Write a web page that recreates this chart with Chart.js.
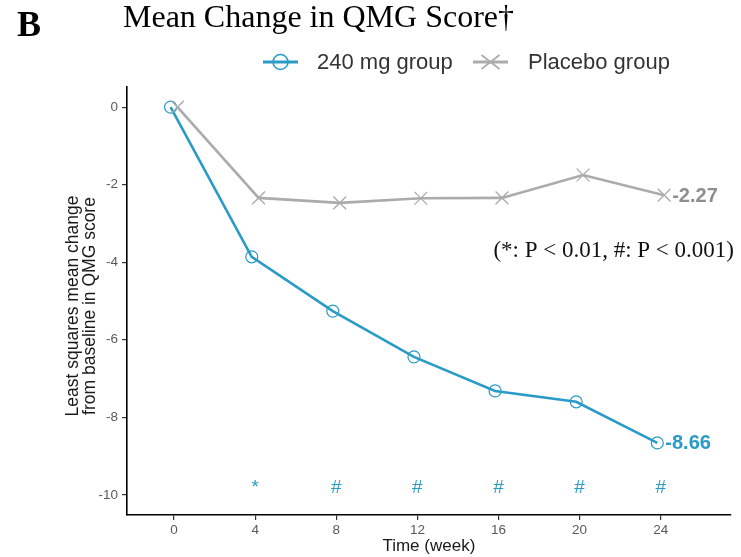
<!DOCTYPE html>
<html>
<head>
<meta charset="utf-8">
<script src="https://cdn.jsdelivr.net/npm/chart.js@4/dist/chart.umd.min.js"></script>
<style>
  html, body { margin: 0; padding: 0; background: #ffffff; }
  #wrap { width: 741px; height: 557px; }
</style>
</head>
<body>
<div id="wrap"><canvas id="chart" width="741" height="557"></canvas></div>
<script>
// Study visits (weeks) and least-squares mean change in QMG score
const weeks = [0, 4, 8, 12, 16, 20, 24];
const dose240 = [0, -3.86, -5.26, -6.44, -7.32, -7.60, -8.66];
const placebo = [0, -2.34, -2.47, -2.35, -2.34, -1.75, -2.27];
// Significance of 240 mg vs placebo at each visit
const sigMarks = ['', '*', '#', '#', '#', '#', '#'];
const xTicks = [0, 4, 8, 12, 16, 20, 24];
const yTicks = [0, -2, -4, -6, -8, -10];

const BLUE = '#2a9bc7';
const GREY = '#ababab';
const DODGE = 0.17;          // horizontal offset so the two series don't overlap
const SIG_Y = -9.95;         // baseline level of the significance marks

const toPoints = (vals, shift) => vals.map((v, i) => ({ x: weeks[i] + shift, y: v }));

const annotations = {
  id: 'annotations',
  afterDatasetsDraw(chart) {
    const { ctx, scales: { x, y } } = chart;
    ctx.save();

    // end-of-line values
    const ends = [
      { data: placebo, shift: DODGE, color: '#8e8e8e' },
      { data: dose240, shift: -DODGE, color: BLUE }
    ];
    ctx.font = 'bold 20px "Liberation Sans", Arial, sans-serif';
    ctx.textAlign = 'left';
    ctx.textBaseline = 'middle';
    ends.forEach(e => {
      const i = e.data.length - 1;
      ctx.fillStyle = e.color;
      ctx.fillText(e.data[i].toFixed(2), x.getPixelForValue(weeks[i] + e.shift) + 8, y.getPixelForValue(e.data[i]) + 1);
    });

    // significance marks
    ctx.font = '19px "Liberation Sans", Arial, sans-serif';
    ctx.textAlign = 'center';
    ctx.textBaseline = 'alphabetic';
    ctx.fillStyle = BLUE;
    sigMarks.forEach((m, i) => {
      if (m) ctx.fillText(m, x.getPixelForValue(weeks[i]), y.getPixelForValue(SIG_Y));
    });

    // p-value key
    ctx.font = '23px "Liberation Serif", "Times New Roman", serif';
    ctx.textAlign = 'right';
    ctx.fillStyle = '#111';
    ctx.fillText('(*: P < 0.01, #: P < 0.001)', 734, 257);
    ctx.restore();
  },
  afterDraw(chart) {
    const { ctx, chartArea } = chart;
    ctx.save();

    // panel letter and heading
    ctx.fillStyle = '#000';
    ctx.textAlign = 'left';
    ctx.textBaseline = 'alphabetic';
    ctx.font = 'bold 36px "Liberation Serif", "Times New Roman", serif';
    ctx.fillText('B', 17, 36);
    ctx.font = '32px "Liberation Serif", "Times New Roman", serif';
    ctx.fillText('Mean Change in QMG Score\u2020', 123, 27);

    // legend
    const ly = 62;
    const items = chart.data.datasets;
    ctx.font = '22px "Liberation Sans", Arial, sans-serif';
    ctx.textBaseline = 'middle';
    const slots = [{ x0: 263, tx: 317 }, { x0: 473, tx: 528 }];
    items.slice().reverse().forEach((ds, k) => {
      const s = slots[k];
      ctx.strokeStyle = ds.borderColor;
      ctx.lineWidth = 3;
      ctx.beginPath();
      ctx.moveTo(s.x0, ly);
      ctx.lineTo(s.x0 + 35, ly);
      ctx.stroke();
      const cx = s.x0 + 17.5;
      ctx.lineWidth = 1.6;
      ctx.beginPath();
      if (ds.pointStyle === 'circle') {
        ctx.arc(cx, ly, 7.5, 0, Math.PI * 2);
      } else {
        ctx.moveTo(cx - 9, ly - 7); ctx.lineTo(cx + 9, ly + 7);
        ctx.moveTo(cx - 9, ly + 7); ctx.lineTo(cx + 9, ly - 7);
      }
      ctx.stroke();
      ctx.fillStyle = '#333';
      ctx.fillText(ds.label, s.tx, ly + 1);
    });

    // axis titles
    ctx.fillStyle = '#1a1a1a';
    ctx.textAlign = 'center';
    ctx.font = '17px "Liberation Sans", Arial, sans-serif';
    ctx.textBaseline = 'middle';
    ctx.fillText('Time (week)', (chartArea.left + chartArea.right) / 2, 546);
    ctx.translate(81, 306);
    ctx.rotate(-Math.PI / 2);
    ctx.font = '17.5px "Liberation Sans", Arial, sans-serif';
    ctx.fillText('Least squares mean change', 0, -8);
    ctx.fillText('from baseline in QMG score', 0, 9);
    ctx.restore();
  }
};

new Chart(document.getElementById('chart'), {
  type: 'line',
  data: {
    datasets: [
      {
        label: 'Placebo group',
        data: toPoints(placebo, DODGE),
        borderColor: GREY,
        borderWidth: 2.6,
        pointStyle: 'crossRot',
        pointRadius: 9,
        pointBorderWidth: 1.3,
        pointBorderColor: GREY,
        pointBackgroundColor: GREY,
        tension: 0
      },
      {
        label: '240 mg group',
        data: toPoints(dose240, -DODGE),
        borderColor: BLUE,
        borderWidth: 2.6,
        pointStyle: 'circle',
        pointRadius: 6,
        pointBorderWidth: 1.2,
        pointBorderColor: BLUE,
        pointBackgroundColor: 'rgba(0,0,0,0)',
        tension: 0
      }
    ]
  },
  options: {
    responsive: false,
    animation: false,
    events: [],
    layout: { padding: { top: 87, right: 3, left: 0, bottom: 0 } },
    plugins: { legend: { display: false }, title: { display: false }, tooltip: { enabled: false } },
    scales: {
      x: {
        type: 'linear',
        min: -2.32,
        max: 27.45,
        afterFit(scale) { scale.height = 42; },
        afterBuildTicks(scale) { scale.ticks = xTicks.map(v => ({ value: v })); },
        grid: { display: true, drawOnChartArea: false, drawTicks: true, tickLength: 5, color: '#333', lineWidth: 1.2 },
        border: { display: true, color: '#000', width: 1.6 },
        ticks: { color: '#5a5a5a', padding: 2, font: { family: '"Liberation Sans", Arial, sans-serif', size: 13.5 }, maxRotation: 0 }
      },
      y: {
        type: 'linear',
        min: -10.52,
        max: 0.52,
        afterFit(scale) { scale.width = 127; },
        afterBuildTicks(scale) { scale.ticks = yTicks.map(v => ({ value: v })); },
        grid: { display: true, drawOnChartArea: false, drawTicks: true, tickLength: 5, color: '#333', lineWidth: 1.2 },
        border: { display: true, color: '#000', width: 1.6 },
        ticks: { color: '#5a5a5a', padding: 4, font: { family: '"Liberation Sans", Arial, sans-serif', size: 13.5 } }
      }
    }
  },
  plugins: [annotations]
});
</script>
</body>
</html>
